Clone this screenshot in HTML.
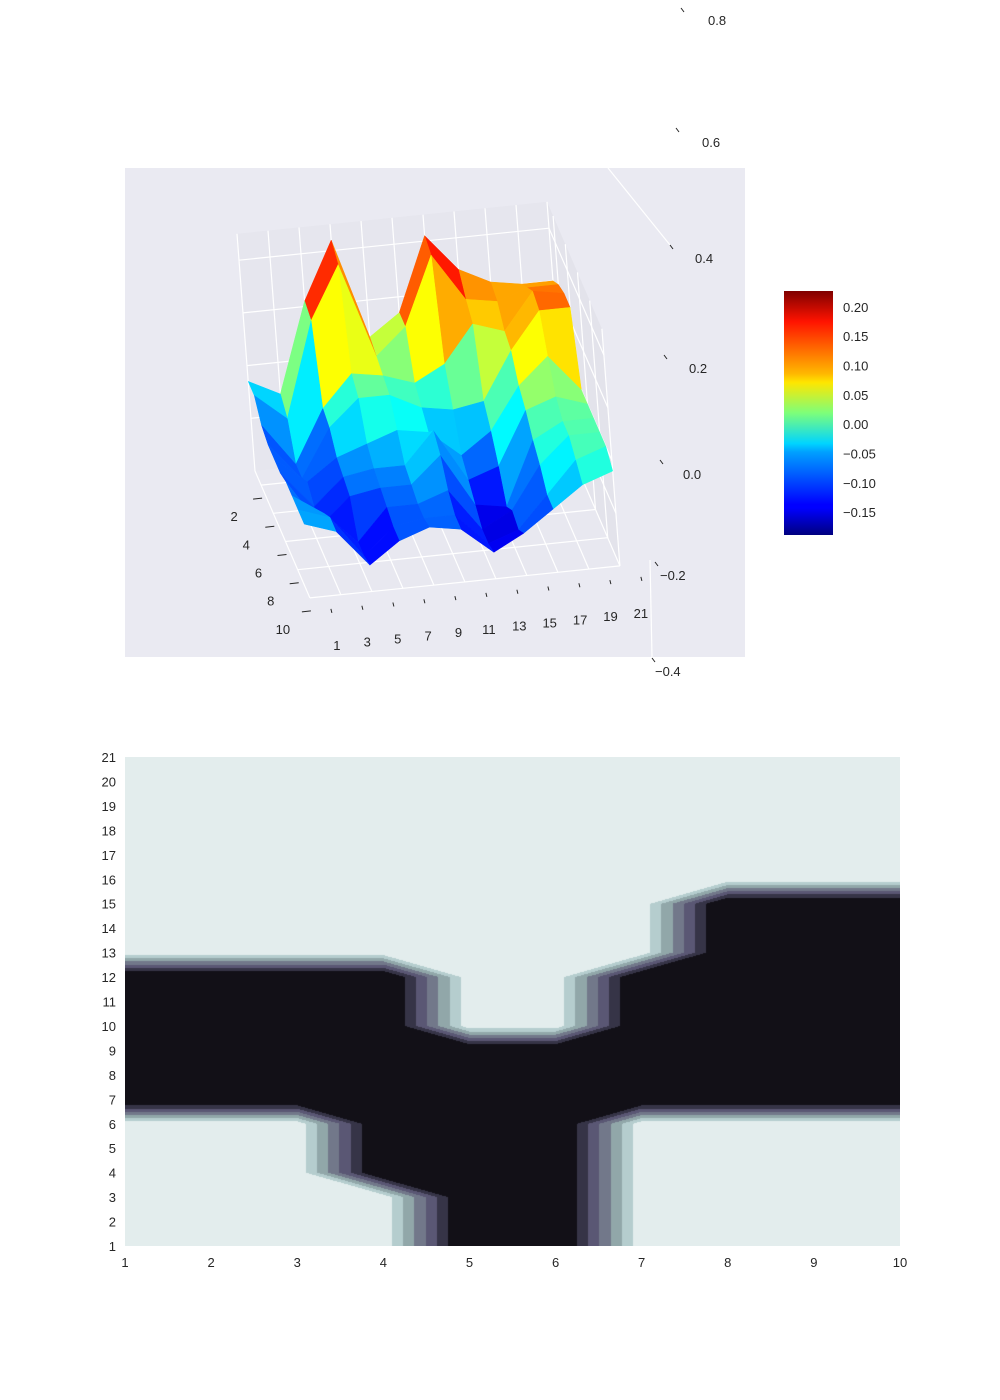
<!DOCTYPE html>
<html><head><meta charset="utf-8">
<style>
body{margin:0;background:#fff;font-family:"Liberation Sans",sans-serif;}
#wrap{position:relative;width:1000px;height:1400px;overflow:hidden;}
svg text{font-family:"Liberation Sans",sans-serif;font-size:13px;fill:#262626;}
</style></head>
<body><div id="wrap">
<svg id="top" width="1000" height="720" style="position:absolute;left:0;top:0">
<defs><linearGradient id="jet" x1="0" y1="1" x2="0" y2="0">
<stop offset="0" stop-color="#00007f"/><stop offset="0.11" stop-color="#0000ff"/><stop offset="0.125" stop-color="#0000ff"/>
<stop offset="0.34" stop-color="#00a0ff"/><stop offset="0.375" stop-color="#00d4ff"/><stop offset="0.5" stop-color="#7dff7a"/>
<stop offset="0.625" stop-color="#ffe600"/><stop offset="0.66" stop-color="#ffb900"/><stop offset="0.875" stop-color="#ff1300"/><stop offset="1" stop-color="#7f0000"/>
</linearGradient></defs>
<rect x="125" y="168" width="620" height="489" fill="#eaeaf2"/>
<g id="box"></g><g id="surf"></g><g id="ticks3d"></g>
<rect x="784" y="291" width="49" height="244" fill="url(#jet)"/>
<g id="cbticks"></g>
</svg>
<canvas id="cont" width="775" height="489" style="position:absolute;left:125px;top:757px"></canvas>
<svg id="bot" width="1000" height="1400" style="position:absolute;left:0;top:0;pointer-events:none"><g id="cticks"></g></svg>
</div>
<script>
// ---- 3D surface data ----
const surfX = [1,2,3,4,5,6,7,8,9,10];
const surfY = [1,3,5,7,9,11,13,15,17,19,21];
const surfZ = [
 [-0.03,-0.06,0.11,0.22,0.03,0.07,0.21,0.14,0.11,0.1,0.1],
 [-0.03,-0.08,0.1,0.2,0.02,0.07,0.2,0.11,0.1,0.12,0.12],
 [-0.06,-0.14,-0.04,0.02,0.01,-0.01,0.02,0.09,0.07,0.14,0.13],
 [-0.07,-0.14,-0.05,0.0,0.0,-0.03,-0.04,-0.03,0.06,0.13,0.13],
 [-0.07,-0.12,-0.08,-0.06,-0.04,-0.05,-0.1,-0.06,0.02,0.07,0.0],
 [-0.07,-0.14,-0.09,-0.08,-0.08,-0.02,-0.12,-0.1,0.0,0.02,0.0],
 [-0.06,-0.15,-0.1,-0.09,-0.09,-0.04,-0.14,-0.15,-0.03,0.0,0.0],
 [-0.06,-0.1,-0.16,-0.1,-0.1,-0.08,-0.16,-0.13,-0.05,0.0,0.0],
 [-0.06,-0.08,-0.16,-0.11,-0.1,-0.1,-0.16,-0.14,-0.08,-0.02,0.0],
 [-0.06,-0.08,-0.15,-0.11,-0.09,-0.1,-0.15,-0.12,-0.08,-0.04,-0.02]];
const xTicks3d=[2,4,6,8,10];
const yTicks3d=[1,3,5,7,9,11,13,15,17,19,21];
const zTicks=[-0.4,-0.2,0.0,0.2,0.4,0.6,0.8];
const zTickPos=[[652,658,669,671],[655,562,674,575],[660,460,683,474],[664,355,689,368],[670,245,695,258],[676,128,702,142],[681,8,708,20]];
const cbTicks=[0.20,0.15,0.10,0.05,0.00,-0.05,-0.10,-0.15];
const ZMIN=-0.2, ZMAX=0.25, CMIN=-0.189, CMAX=0.227;
const NS='http://www.w3.org/2000/svg';
function P(x,y,z){return [255+(x-1)*6.1+(y-1)*15.5-(z-ZMIN)*40, 471+(x-1)*14.1-(y-1)*1.6-(z-ZMIN)*527];}
function mk(tag,attrs,parent){const e=document.createElementNS(NS,tag);for(const k in attrs)e.setAttribute(k,attrs[k]);parent.appendChild(e);return e;}
function poly(pts){return pts.map(p=>p[0].toFixed(1)+','+p[1].toFixed(1)).join(' ');}
function jet(v){let t=(v-CMIN)/(CMAX-CMIN);t=Math.max(0,Math.min(1,t));
 const f=(a)=>Math.max(0,Math.min(1,1.5-Math.abs(4*t-a)));
 return `rgb(${Math.round(255*f(3))},${Math.round(255*f(2))},${Math.round(255*f(1))})`;}
const box=document.getElementById('box');
const x0=1,x1=10,y0=1,y1=21;
let e;
e=mk('polygon',{points:poly([P(x0,y0,ZMIN),P(x0,y1,ZMIN),P(x0,y1,ZMAX),P(x0,y0,ZMAX)]),fill:'#e6e6ee'},box);

e=mk('polygon',{points:poly([P(x0,y1,ZMIN),P(x1,y1,ZMIN),P(x1,y1,ZMAX),P(x0,y1,ZMAX)]),fill:'#e3e3eb'},box);

e=mk('polygon',{points:poly([P(x0,y0,ZMIN),P(x1,y0,ZMIN),P(x1,y1,ZMIN),P(x0,y1,ZMIN)]),fill:'#e8e8f0'},box);

const gl={stroke:'#fff','stroke-width':1.2};
for(const y of yTicks3d){mk('line',Object.assign({x1:P(x0,y,ZMIN)[0],y1:P(x0,y,ZMIN)[1],x2:P(x0,y,ZMAX)[0],y2:P(x0,y,ZMAX)[1]},gl),box);
 mk('line',Object.assign({x1:P(x0,y,ZMIN)[0],y1:P(x0,y,ZMIN)[1],x2:P(x1,y,ZMIN)[0],y2:P(x1,y,ZMIN)[1]},gl),box);}
for(const x of xTicks3d){mk('line',Object.assign({x1:P(x,y1,ZMIN)[0],y1:P(x,y1,ZMIN)[1],x2:P(x,y1,ZMAX)[0],y2:P(x,y1,ZMAX)[1]},gl),box);
 mk('line',Object.assign({x1:P(x,y0,ZMIN)[0],y1:P(x,y0,ZMIN)[1],x2:P(x,y1,ZMIN)[0],y2:P(x,y1,ZMIN)[1]},gl),box);}
for(const z of [-0.1,0,0.1,0.2]){mk('line',Object.assign({x1:P(x0,y0,z)[0],y1:P(x0,y0,z)[1],x2:P(x0,y1,z)[0],y2:P(x0,y1,z)[1]},gl),box);
 mk('line',Object.assign({x1:P(x0,y1,z)[0],y1:P(x0,y1,z)[1],x2:P(x1,y1,z)[0],y2:P(x1,y1,z)[1]},gl),box);}
mk('line',{x1:608,y1:168,x2:670,y2:245,stroke:'#fff','stroke-width':1.2},box);
mk('line',{x1:650,y1:560,x2:652,y2:657,stroke:'#fff','stroke-width':1.2},box);
// surface quads
const surf=document.getElementById('surf');const quads=[];
for(let i=0;i<surfX.length-1;i++)for(let j=0;j<surfY.length-1;j++){
 const c=[[i,j],[i+1,j],[i+1,j+1],[i,j+1]];
 const zs=c.map(([a,b])=>surfZ[a][b]);
 const avg=zs.reduce((s,v)=>s+v,0)/4;
 quads.push({pts:c.map(([a,b],k)=>P(surfX[a],surfY[b],zs[k])),avg,d:(i+0.5)/9-(j+0.5)/10});}
quads.sort((a,b)=>a.d-b.d);
for(const q of quads){const p=mk('polygon',{points:poly(q.pts),fill:jet(q.avg),stroke:jet(q.avg),'stroke-width':0.5},surf);
 }
// ticks
const tk=document.getElementById('ticks3d');
for(const x of xTicks3d){const p=P(x,y0,ZMIN);const t=mk('text',{x:p[0]-27,y:p[1]+36,'text-anchor':'middle'},tk);t.textContent=x;
 
 mk('line',{x1:p[0]-8,y1:p[1]+14,x2:p[0]+1,y2:p[1]+13,stroke:'#262626','stroke-width':1},tk);}
for(const y of yTicks3d){const p=P(x1,y,ZMIN);const t=mk('text',{x:p[0]+27-(y-1)*0.3,y:p[1]+52,'text-anchor':'middle'},tk);t.textContent=y;
 
 mk('line',{x1:p[0]+21,y1:p[1]+11,x2:p[0]+22,y2:p[1]+15,stroke:'#262626','stroke-width':1},tk);}
zTicks.forEach((z,k)=>{const q=zTickPos[k];const t=mk('text',{x:q[2]+(z<0?-14:0),y:q[3]+5},tk);t.textContent=z<0?'\u2212'+Math.abs(z).toFixed(1):z.toFixed(1);
 
 mk('line',{x1:q[0],y1:q[1],x2:q[0]+3,y2:q[1]+4,stroke:'#262626','stroke-width':1},tk);});
const cb=document.getElementById('cbticks');
for(const v of cbTicks){const yy=535-(v-CMIN)/(CMAX-CMIN)*244;const t=mk('text',{x:843,y:yy+5},cb);
 t.textContent=(v<0?'\u2212':'')+Math.abs(v).toFixed(2);}
// ---- contour data ----
const contX=[1,2,3,4,5,6,7,8,9,10];
const blackLo=[7,7,7,4,1,1,7,7,7,7];
const blackHi=[12,12,12,12,9,9,12,15,15,15];
const levels=[0.1,0.23,0.36,0.49,0.62,0.75];
const bandColors=['#e3eded','#b5cdce','#91a7a9','#72788a','#5a5774','#363447','#121017'];
const V=contX.map((x,i)=>{const col=[];for(let y=1;y<=21;y++)col.push(y>=blackLo[i]&&y<=blackHi[i]?1:0);return col;});
const cv=document.getElementById('cont');const ctx=cv.getContext('2d');
const W=775,H=489;const img=ctx.createImageData(W,H);
const rgb=bandColors.map(h=>[parseInt(h.substr(1,2),16),parseInt(h.substr(3,2),16),parseInt(h.substr(5,2),16)]);
for(let py=0;py<H;py++){const y=1+(H-0.5-py)/H*20;const j=Math.min(19,Math.floor(y-1)),fy=y-1-j;
 for(let px=0;px<W;px++){const x=1+(px+0.5)/W*9;const i=Math.min(8,Math.floor(x-1)),fx=x-1-i;
  const a=V[i][j],b=V[i+1][j],c=V[i][j+1],d=V[i+1][j+1];let v;
  if(a!==d){ if(fx+fy<=1) v=a+fx*(b-a)+fy*(c-a); else v=d+(1-fx)*(c-d)+(1-fy)*(b-d); }
  else { if(fx>=fy) v=a+fx*(b-a)+fy*(d-b); else v=a+fy*(c-a)+fx*(d-c); }
  let k=0;while(k<levels.length&&v>=levels[k])k++;
  const col=rgb[k],o=(py*W+px)*4;img.data[o]=col[0];img.data[o+1]=col[1];img.data[o+2]=col[2];img.data[o+3]=255;}}
ctx.putImageData(img,0,0);
const ct=document.getElementById('cticks');
for(const x of contX){const t=mk('text',{x:125+(x-1)/9*775,y:1267,'text-anchor':'middle'},ct);t.textContent=x;
 }
for(let y=1;y<=21;y++){const t=mk('text',{x:116,y:1246-(y-1)/20*489+5,'text-anchor':'end'},ct);t.textContent=y;
 }
</script>
</body></html>
